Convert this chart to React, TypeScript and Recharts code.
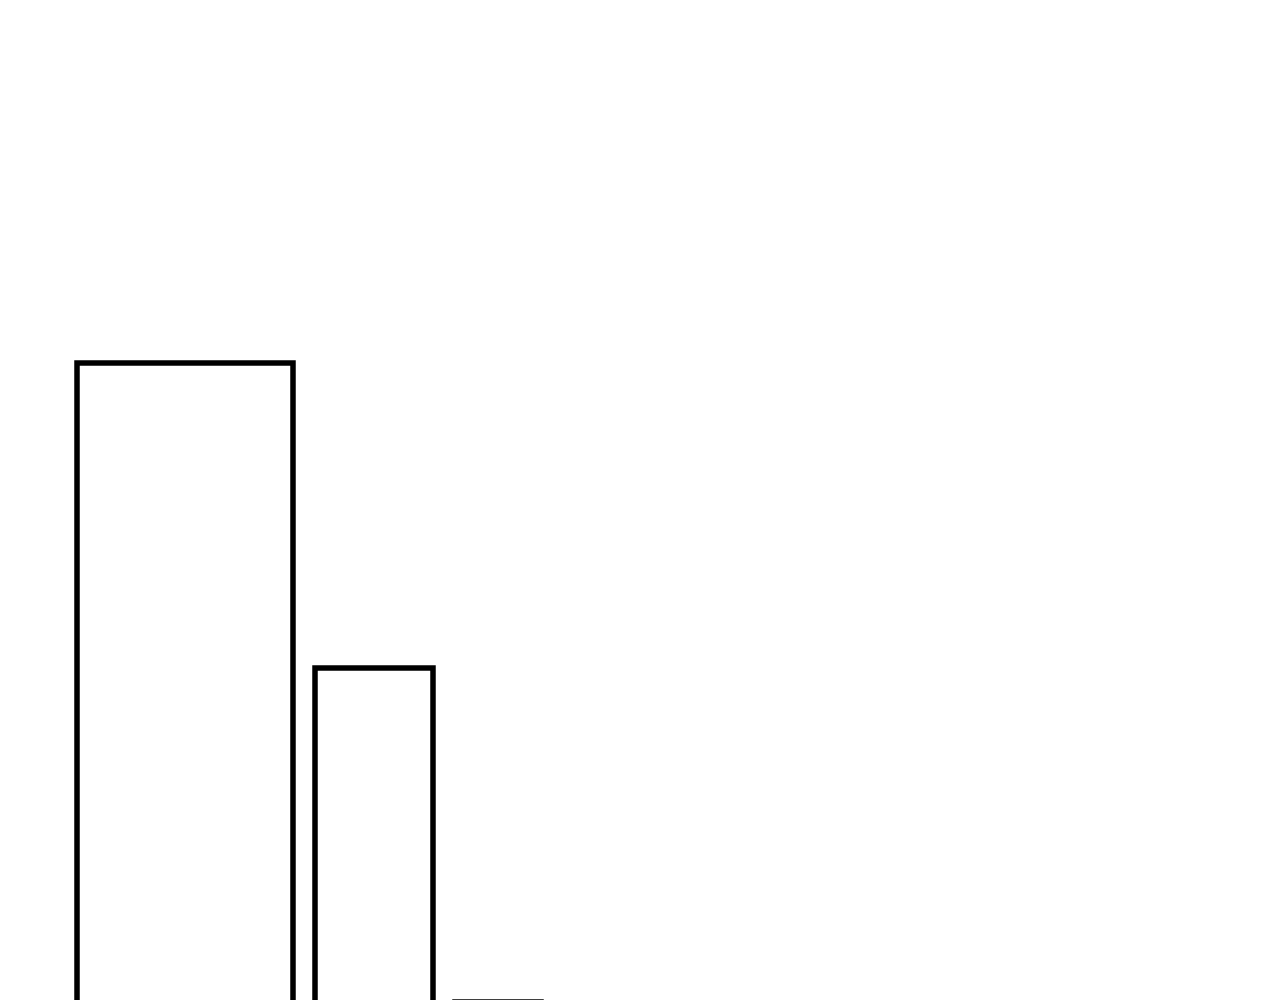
import React from "react";
import { BarChart, Bar, XAxis, YAxis } from "recharts";

const categories = ["A"];
const seriesOne = [104.5];
const seriesTwo = [74];
const seriesThree = [40.6];

const data = categories.map((name, i) => ({
  name,
  one: seriesOne[i],
  two: seriesTwo[i],
  three: seriesThree[i],
}));

export default function App() {
  return (
    <BarChart
      width={602}
      height={1400}
      data={data}
      margin={{ top: 0, right: 0, bottom: 0, left: 0 }}
      barGap={22}
    >
      <XAxis dataKey="name" hide />
      <YAxis hide domain={[0, 140]} />
      <Bar dataKey="one" barSize={216} fill="#ffffff" stroke="#000000" strokeWidth={5.5} isAnimationActive={false} />
      <Bar dataKey="two" barSize={118} fill="#ffffff" stroke="#000000" strokeWidth={5.5} isAnimationActive={false} />
      <Bar dataKey="three" barSize={86} fill="#ffffff" stroke="#000000" strokeWidth={5.5} isAnimationActive={false} />
    </BarChart>
  );
}
